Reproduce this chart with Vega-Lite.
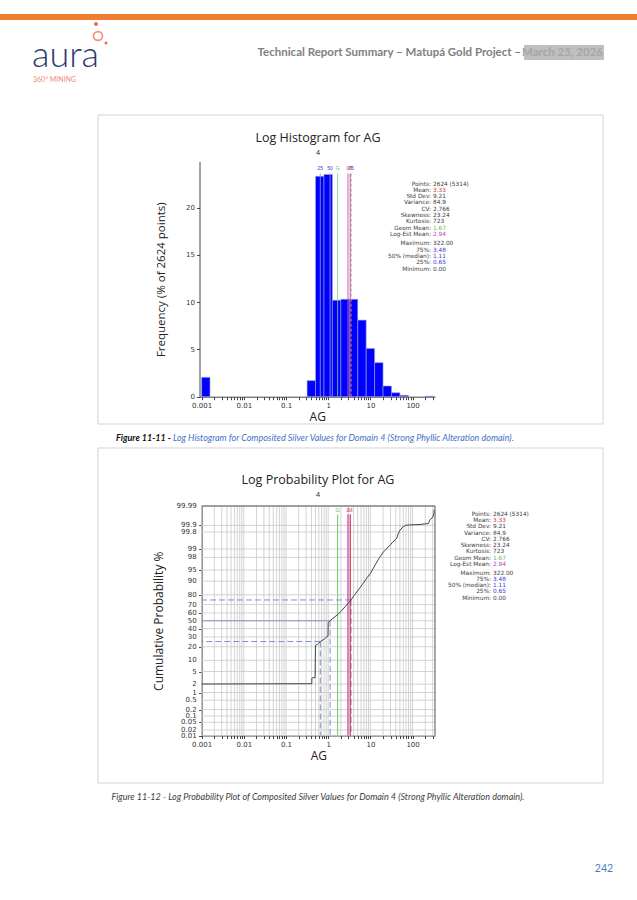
{
"$schema":"https://vega.github.io/schema/vega-lite/v6.json",
"width":637,"height":900,"autosize":{"type":"none"},"padding":0,"background":"white",
"config":{"view":{"stroke":null},"axis":{"grid":false,"zindex":1,"labelOverlap":false,"labelFont":"DejaVu Sans","labelFontSize":7,"labelColor":"#333333","titleFont":"Open Sans","titleFontWeight":"normal","titleColor":"#222222","domainColor":"#444444","tickColor":"#444444","tickSize":3,"labelPadding":2}},
"datasets":{
"hist":[
{"lo":0.001,"hi":0.00158,"pct":2.05},
{"lo":0.3162,"hi":0.5012,"pct":1.7},
{"lo":0.5012,"hi":0.7943,"pct":23.3},
{"lo":0.7943,"hi":1.2589,"pct":23.5},
{"lo":1.2589,"hi":1.9953,"pct":10.2},
{"lo":1.9953,"hi":3.1623,"pct":10.3},
{"lo":3.1623,"hi":5.0119,"pct":10.3},
{"lo":5.0119,"hi":7.9433,"pct":8.1},
{"lo":7.9433,"hi":12.589,"pct":5.1},
{"lo":12.589,"hi":19.953,"pct":3.6},
{"lo":19.953,"hi":31.623,"pct":1.13},
{"lo":31.623,"hi":50.119,"pct":0.42},
{"lo":50.119,"hi":79.433,"pct":0.15},
{"lo":199.53,"hi":316.23,"pct":0.05}
],
"markers":[
{"name":"25","v":0.65,"kind":"quart"},
{"name":"50","v":1.11,"kind":"quart"},
{"name":"G","v":1.67,"kind":"geo"},
{"name":"L","v":2.94,"kind":"logest"},
{"name":"M","v":3.33,"kind":"mean"},
{"name":"75","v":3.48,"kind":"quart"}
],
"quartiles":[
{"q":"25","v":0.65,"z":-0.674},
{"q":"50","v":1.11,"z":0},
{"q":"75","v":3.48,"z":0.674}
],
"statsText":[
{"line":0,"label":"Points:","value":"2624 (5314)","tone":"plain"},
{"line":1,"label":"Mean:","value":"3.33","tone":"mean"},
{"line":2,"label":"Std Dev:","value":"9.21","tone":"plain"},
{"line":3,"label":"Variance:","value":"84.9","tone":"plain"},
{"line":4,"label":"CV:","value":"2.766","tone":"plain"},
{"line":5,"label":"Skewness:","value":"23.24","tone":"plain"},
{"line":6,"label":"Kurtosis:","value":"723","tone":"plain"},
{"line":7,"label":"Geom Mean:","value":"1.67","tone":"geo"},
{"line":8,"label":"Log-Est Mean:","value":"2.94","tone":"logest"},
{"line":9.45,"label":"Maximum:","value":"322.00","tone":"plain"},
{"line":10.45,"label":"75%:","value":"3.48","tone":"quart"},
{"line":11.45,"label":"50% (median):","value":"1.11","tone":"quart"},
{"line":12.45,"label":"25%:","value":"0.65","tone":"quart"},
{"line":13.45,"label":"Minimum:","value":"0.00","tone":"plain"}
],
"logGrid":[{"g":0.001},{"g":0.002},{"g":0.003},{"g":0.004},{"g":0.005},{"g":0.006},{"g":0.007},{"g":0.008},{"g":0.009},{"g":0.01},{"g":0.02},{"g":0.03},{"g":0.04},{"g":0.05},{"g":0.06},{"g":0.07},{"g":0.08},{"g":0.09},{"g":0.1},{"g":0.2},{"g":0.3},{"g":0.4},{"g":0.5},{"g":0.6},{"g":0.7},{"g":0.8},{"g":0.9},{"g":1},{"g":2},{"g":3},{"g":4},{"g":5},{"g":6},{"g":7},{"g":8},{"g":9},{"g":10},{"g":20},{"g":30},{"g":40},{"g":50},{"g":60},{"g":70},{"g":80},{"g":90},{"g":100},{"g":200},{"g":300}],
"probTicks":[{"pct":"0.01","z":-3.719},{"pct":"0.02","z":-3.54},{"pct":"0.05","z":-3.291},{"pct":"0.1","z":-3.09},{"pct":"0.2","z":-2.878},{"pct":"0.5","z":-2.576},{"pct":"1","z":-2.326},{"pct":"2","z":-2.054},{"pct":"5","z":-1.645},{"pct":"10","z":-1.282},{"pct":"20","z":-0.842},{"pct":"30","z":-0.524},{"pct":"40","z":-0.253},{"pct":"50","z":0},{"pct":"60","z":0.253},{"pct":"70","z":0.524},{"pct":"80","z":0.842},{"pct":"90","z":1.282},{"pct":"95","z":1.645},{"pct":"98","z":2.054},{"pct":"99","z":2.326},{"pct":"99.8","z":2.878},{"pct":"99.9","z":3.09},{"pct":"99.99","z":3.719}],
"cdf":[
{"i":1,"ag":0.001,"z":-2.05},
{"i":2,"ag":0.41,"z":-2.04},
{"i":3,"ag":0.41,"z":-1.86},
{"i":4,"ag":0.43,"z":-1.85},
{"i":5,"ag":0.49,"z":-1.84},
{"i":6,"ag":0.5,"z":-0.8},
{"i":7,"ag":0.55,"z":-0.77},
{"i":8,"ag":0.65,"z":-0.674},
{"i":9,"ag":0.8,"z":-0.6},
{"i":10,"ag":0.93,"z":-0.52},
{"i":11,"ag":0.99,"z":-0.5},
{"i":12,"ag":1.0,"z":-0.06},
{"i":13,"ag":1.11,"z":0.0},
{"i":14,"ag":1.3,"z":0.08},
{"i":15,"ag":1.67,"z":0.2},
{"i":16,"ag":2.0,"z":0.3},
{"i":17,"ag":2.5,"z":0.45},
{"i":18,"ag":3.0,"z":0.57},
{"i":19,"ag":3.48,"z":0.674},
{"i":20,"ag":4.2,"z":0.84},
{"i":21,"ag":5.2,"z":1.0},
{"i":22,"ag":6.5,"z":1.18},
{"i":23,"ag":8.2,"z":1.38},
{"i":24,"ag":10,"z":1.53},
{"i":25,"ag":12.9,"z":1.8},
{"i":26,"ag":16,"z":2.02},
{"i":27,"ag":20,"z":2.22},
{"i":28,"ag":22,"z":2.27},
{"i":29,"ag":26.6,"z":2.4},
{"i":30,"ag":28,"z":2.42},
{"i":31,"ag":34,"z":2.55},
{"i":32,"ag":42,"z":2.67},
{"i":33,"ag":45,"z":2.8},
{"i":34,"ag":50,"z":2.93},
{"i":35,"ag":60,"z":3.05},
{"i":36,"ag":72,"z":3.1},
{"i":37,"ag":150,"z":3.12},
{"i":38,"ag":236,"z":3.15},
{"i":39,"ag":258,"z":3.27},
{"i":40,"ag":300,"z":3.35},
{"i":41,"ag":322,"z":3.49},
{"i":42,"ag":322,"z":3.6}
]
},
"layer":[
{
"data":{"values":[{}]},
"layer":[
{"mark":{"type":"rect","fill":"#ED7D31"},"encoding":{"x":{"value":0},"x2":{"value":637},"y":{"value":14},"y2":{"value":20}}},
{"mark":{"type":"text","font":"Lato","fontSize":36,"fontWeight":300,"align":"left","baseline":"alphabetic","fill":"#2d3a6e"},"encoding":{"x":{"value":32},"y":{"value":67},"text":{"value":"aura"}}},
{"mark":{"type":"point","shape":"circle","filled":false,"stroke":"#f0654e","strokeWidth":1.8,"size":80},"encoding":{"x":{"value":98},"y":{"value":36}}},
{"mark":{"type":"point","shape":"circle","filled":true,"fill":"#f0654e","size":16,"opacity":1},"encoding":{"x":{"value":96},"y":{"value":24}}},
{"mark":{"type":"point","shape":"circle","filled":true,"fill":"#f0654e","size":9,"opacity":1},"encoding":{"x":{"value":106},"y":{"value":43}}},
{"mark":{"type":"text","font":"Lato","fontSize":7,"align":"left","baseline":"middle","fill":"#f28a76"},"encoding":{"x":{"value":33},"y":{"value":80},"text":{"value":"360° MINING"}}},
{"mark":{"type":"rect","fill":"#bfbfbf"},"encoding":{"x":{"value":524},"x2":{"value":604},"y":{"value":45},"y2":{"value":60}}},
{"mark":{"type":"text","font":"Lato","fontSize":11.5,"fontWeight":"bold","align":"right","baseline":"middle","fill":"#808080"},"encoding":{"x":{"value":521},"y":{"value":53},"text":{"value":"Technical Report Summary – Matupá Gold Project –"}}},
{"mark":{"type":"text","font":"Lato","fontSize":11.5,"fontWeight":"bold","align":"right","baseline":"middle","fill":"#a6a6a6"},"encoding":{"x":{"value":603},"y":{"value":53},"text":{"value":"March 25, 2026"}}},
{"mark":{"type":"rect","fill":null,"fillOpacity":0,"stroke":"#d3d3d3","strokeWidth":1},"encoding":{"x":{"value":98},"x2":{"value":603},"y":{"value":115},"y2":{"value":424}}},
{"mark":{"type":"rect","fill":null,"fillOpacity":0,"stroke":"#d3d3d3","strokeWidth":1},"encoding":{"x":{"value":98},"x2":{"value":603},"y":{"value":448},"y2":{"value":783}}},
{"mark":{"type":"text","font":"Open Sans","fontSize":12.5,"align":"center","baseline":"middle","fill":"#222222"},"encoding":{"x":{"value":318},"y":{"value":138},"text":{"value":"Log Histogram for AG"}}},
{"mark":{"type":"text","font":"Open Sans","fontSize":7,"align":"center","baseline":"middle","fill":"#222222"},"encoding":{"x":{"value":318},"y":{"value":153},"text":{"value":"4"}}},
{"mark":{"type":"text","font":"Open Sans","fontSize":12.5,"align":"center","baseline":"middle","fill":"#222222"},"encoding":{"x":{"value":318},"y":{"value":480},"text":{"value":"Log Probability Plot for AG"}}},
{"mark":{"type":"text","font":"Open Sans","fontSize":7,"align":"center","baseline":"middle","fill":"#222222"},"encoding":{"x":{"value":318},"y":{"value":495},"text":{"value":"4"}}},
{"mark":{"type":"text","font":"Lato","fontSize":9,"fontStyle":"italic","fontWeight":"bold","align":"left","baseline":"middle","fill":"#111111"},"encoding":{"x":{"value":116},"y":{"value":438},"text":{"value":"Figure 11-11 -"}}},
{"mark":{"type":"text","font":"Lato","fontSize":9,"fontStyle":"italic","align":"left","baseline":"middle","fill":"#4472c4"},"encoding":{"x":{"value":173},"y":{"value":438},"text":{"value":"Log Histogram for Composited Silver Values for Domain 4 (Strong Phyllic Alteration domain)."}}},
{"mark":{"type":"text","font":"Lato","fontSize":9,"fontStyle":"italic","align":"center","baseline":"middle","fill":"#404040"},"encoding":{"x":{"value":318},"y":{"value":797},"text":{"value":"Figure 11-12 - Log Probability Plot of Composited Silver Values for Domain 4 (Strong Phyllic Alteration domain)."}}},
{"mark":{"type":"text","font":"Lato","fontSize":10.5,"align":"center","baseline":"middle","fill":"#4f7cc0"},"encoding":{"x":{"value":604},"y":{"value":869},"text":{"value":"242"}}}
]
},
{
"layer":[
{"data":{"name":"hist"},"mark":{"type":"rect","fill":"#0000ff","stroke":"#9aa2dc","strokeWidth":0.6},
"encoding":{
"x":{"field":"lo","type":"quantitative","title":"AG","scale":{"type":"log","domain":[0.00089,340],"range":[199.5,435],"nice":false},"axis":{"orient":"bottom","offset":-503.3,"values":[0.001,0.002,0.003,0.004,0.005,0.006,0.007,0.008,0.009,0.01,0.02,0.03,0.04,0.05,0.06,0.07,0.08,0.09,0.1,0.2,0.3,0.4,0.5,0.6,0.7,0.8,0.9,1,2,3,4,5,6,7,8,9,10,20,30,40,50,60,70,80,90,100,200,300],"labelExpr":"indexof([0.001,0.01,0.1,1,10,100], datum.value) >= 0 ? format(datum.value, '~g') : ''","labelOverlap":false,"labelFlush":false,"titleFontSize":12,"titlePadding":3}},
"x2":{"field":"hi"},
"y":{"field":"pct","type":"quantitative","title":"Frequency (% of 2624 points)","scale":{"domain":[0,24.85],"range":[396.7,161.7],"nice":false,"zero":false},"axis":{"orient":"left","offset":-199.5,"values":[0,5,10,15,20],"titleFontSize":11.5,"titlePadding":19}},
"y2":{"datum":0}}},
{"data":{"name":"markers"},"mark":{"type":"rule","strokeWidth":1},
"encoding":{
"x":{"field":"v","type":"quantitative","title":"AG","scale":{"type":"log","domain":[0.00089,340],"range":[199.5,435],"nice":false}},
"y":{"datum":0,"scale":{"domain":[0,24.85],"range":[396.7,161.7],"nice":false,"zero":false}},
"y2":{"datum":23.6},
"stroke":{"field":"kind","type":"nominal","scale":{"domain":["quart","geo","logest","mean"],"range":["#8e9ad0","#80cc80","#cc44cc","#cc3333"]},"legend":null},
"strokeDash":{"condition":{"test":"datum.name === '75'","value":[3,2]},"value":[1,0]}}},
{"data":{"name":"markers"},"mark":{"type":"text","fontSize":5,"font":"Liberation Sans","baseline":"middle","align":"center"},
"encoding":{
"x":{"field":"v","type":"quantitative","title":"AG","scale":{"type":"log","domain":[0.00089,340],"range":[199.5,435],"nice":false}},
"y":{"datum":24.2,"scale":{"domain":[0,24.85],"range":[396.7,161.7],"nice":false,"zero":false}},
"text":{"field":"name"},
"fill":{"field":"kind","type":"nominal","scale":{"domain":["plain","mean","geo","logest","quart"],"range":["#3c3c3c","#d83c3c","#5cc05c","#c23cc2","#3a3acc"]},"legend":null}}}
]
},
{
"data":{"name":"statsText"},
"encoding":{"y":{"field":"line","type":"quantitative","scale":{"domain":[0,13.45],"range":[183.5,268.5],"nice":false,"zero":false},"axis":null}},
"layer":[
{"mark":{"type":"text","align":"right","baseline":"middle","fontSize":5.8,"font":"DejaVu Sans","fill":"#3c3c3c"},"encoding":{"x":{"value":431},"text":{"field":"label"}}},
{"mark":{"type":"text","align":"left","baseline":"middle","fontSize":5.8,"font":"DejaVu Sans"},"encoding":{"x":{"value":433},"text":{"field":"value"},"fill":{"field":"tone","type":"nominal","scale":{"domain":["plain","mean","geo","logest","quart"],"range":["#3c3c3c","#d83c3c","#5cc05c","#c23cc2","#3a3acc"]},"legend":null}}}
]
},
{
"layer":[
{"data":{"name":"probTicks"},"mark":{"type":"rule","stroke":"#c8c8c8","strokeWidth":0.8},
"encoding":{
"y":{"field":"z","type":"quantitative","title":"Cumulative Probability %","scale":{"domain":[-3.719,3.719],"range":[735.5,506],"nice":false,"zero":false},"axis":{"orient":"left","offset":-201.6,"values":[-3.719,-3.54,-3.291,-3.09,-2.878,-2.576,-2.326,-2.054,-1.645,-1.282,-0.842,-0.524,-0.253,0,0.253,0.524,0.842,1.282,1.645,2.054,2.326,2.878,3.09,3.719],"labels":false,"titleFontSize":12,"titlePadding":33}},
"x":{"datum":0.001,"scale":{"type":"log","domain":[0.001,340],"range":[201.6,435],"nice":false}},
"x2":{"datum":340}}},
{"data":{"name":"probTicks"},"mark":{"type":"text","align":"right","baseline":"middle","dx":-5,"font":"DejaVu Sans","fontSize":7,"fill":"#333333"},
"encoding":{
"y":{"field":"z","type":"quantitative","scale":{"domain":[-3.719,3.719],"range":[735.5,506],"nice":false,"zero":false}},
"x":{"datum":0.001,"scale":{"type":"log","domain":[0.001,340],"range":[201.6,435],"nice":false}},
"text":{"field":"pct"}}},
{"data":{"name":"logGrid"},"mark":{"type":"rule","stroke":"#c8c8c8","strokeWidth":0.8},
"encoding":{
"x":{"field":"g","type":"quantitative","title":"AG","scale":{"type":"log","domain":[0.001,340],"range":[201.6,435],"nice":false},"axis":{"orient":"bottom","offset":-164.5,"values":[0.001,0.002,0.003,0.004,0.005,0.006,0.007,0.008,0.009,0.01,0.02,0.03,0.04,0.05,0.06,0.07,0.08,0.09,0.1,0.2,0.3,0.4,0.5,0.6,0.7,0.8,0.9,1,2,3,4,5,6,7,8,9,10,20,30,40,50,60,70,80,90,100,200,300],"labelExpr":"indexof([0.001,0.01,0.1,1,10,100], datum.value) >= 0 ? format(datum.value, '~g') : ''","labelOverlap":false,"labelFlush":false,"titleFontSize":12,"titlePadding":3}},
"y":{"datum":-3.719,"scale":{"domain":[-3.719,3.719],"range":[735.5,506],"nice":false,"zero":false}},
"y2":{"datum":3.719}}},
{"data":{"name":"quartiles"},"mark":{"type":"rule","stroke":"#7f8fc7","strokeWidth":1},
"encoding":{
"y":{"field":"z","type":"quantitative","scale":{"domain":[-3.719,3.719],"range":[735.5,506],"nice":false,"zero":false}},
"x":{"field":"v","type":"quantitative","scale":{"type":"log","domain":[0.001,340],"range":[201.6,435],"nice":false}},
"x2":{"datum":0.001},
"strokeDash":{"condition":{"test":"datum.q === '50'","value":[1,0]},"value":[6,3]}}},
{"data":{"name":"quartiles"},"mark":{"type":"rule","stroke":"#7f8fc7","strokeWidth":1,"strokeDash":[6,3]},
"encoding":{
"x":{"field":"v","type":"quantitative","scale":{"type":"log","domain":[0.001,340],"range":[201.6,435],"nice":false}},
"y":{"field":"z","type":"quantitative","scale":{"domain":[-3.719,3.719],"range":[735.5,506],"nice":false,"zero":false}},
"y2":{"datum":-3.719}}},
{"data":{"name":"markers"},"transform":[{"filter":"datum.kind !== 'quart'"}],"mark":{"type":"rule","strokeWidth":1.2},
"encoding":{
"x":{"field":"v","type":"quantitative","scale":{"type":"log","domain":[0.001,340],"range":[201.6,435],"nice":false}},
"y":{"datum":-3.719,"scale":{"domain":[-3.719,3.719],"range":[735.5,506],"nice":false,"zero":false}},
"y2":{"datum":3.45},
"stroke":{"field":"kind","type":"nominal","scale":{"domain":["quart","geo","logest","mean"],"range":["#8e9ad0","#80cc80","#cc44cc","#cc3333"]},"legend":null}}},
{"data":{"name":"cdf"},"mark":{"type":"line","stroke":"#3d4747","strokeWidth":1},
"encoding":{
"x":{"field":"ag","type":"quantitative","scale":{"type":"log","domain":[0.001,340],"range":[201.6,435],"nice":false}},
"y":{"field":"z","type":"quantitative","scale":{"domain":[-3.719,3.719],"range":[735.5,506],"nice":false,"zero":false}},
"order":{"field":"i","type":"quantitative"}}},
{"data":{"values":[{}]},"mark":{"type":"rule","stroke":"#555555","strokeWidth":1},
"encoding":{
"x":{"datum":0.001,"scale":{"type":"log","domain":[0.001,340],"range":[201.6,435],"nice":false}},
"x2":{"datum":340},
"y":{"datum":3.719,"scale":{"domain":[-3.719,3.719],"range":[735.5,506],"nice":false,"zero":false}}}},
{"data":{"values":[{}]},"mark":{"type":"rule","stroke":"#555555","strokeWidth":1},
"encoding":{
"x":{"datum":340,"scale":{"type":"log","domain":[0.001,340],"range":[201.6,435],"nice":false}},
"y":{"datum":-3.719,"scale":{"domain":[-3.719,3.719],"range":[735.5,506],"nice":false,"zero":false}},
"y2":{"datum":3.719}}},
{"data":{"name":"markers"},"transform":[{"filter":"datum.kind !== 'quart'"}],"mark":{"type":"text","fontSize":5.5,"font":"Liberation Sans","baseline":"middle","align":"center"},
"encoding":{
"x":{"field":"v","type":"quantitative","scale":{"type":"log","domain":[0.001,340],"range":[201.6,435],"nice":false}},
"y":{"datum":3.58,"scale":{"domain":[-3.719,3.719],"range":[735.5,506],"nice":false,"zero":false}},
"text":{"field":"name"},
"fill":{"field":"kind","type":"nominal","scale":{"domain":["plain","mean","geo","logest","quart"],"range":["#3c3c3c","#d83c3c","#5cc05c","#c23cc2","#3a3acc"]},"legend":null}}}
]
},
{
"data":{"name":"statsText"},
"encoding":{"y":{"field":"line","type":"quantitative","scale":{"domain":[0,13.45],"range":[514,597.7],"nice":false,"zero":false},"axis":null}},
"layer":[
{"mark":{"type":"text","align":"right","baseline":"middle","fontSize":5.8,"font":"DejaVu Sans","fill":"#3c3c3c"},"encoding":{"x":{"value":491},"text":{"field":"label"}}},
{"mark":{"type":"text","align":"left","baseline":"middle","fontSize":5.8,"font":"DejaVu Sans"},"encoding":{"x":{"value":493},"text":{"field":"value"},"fill":{"field":"tone","type":"nominal","scale":{"domain":["plain","mean","geo","logest","quart"],"range":["#3c3c3c","#d83c3c","#5cc05c","#c23cc2","#3a3acc"]},"legend":null}}}
]
}
],
"resolve":{"scale":{"x":"independent","y":"independent","fill":"independent","stroke":"independent","strokeDash":"independent"},"axis":{"x":"independent","y":"independent"}}
}
